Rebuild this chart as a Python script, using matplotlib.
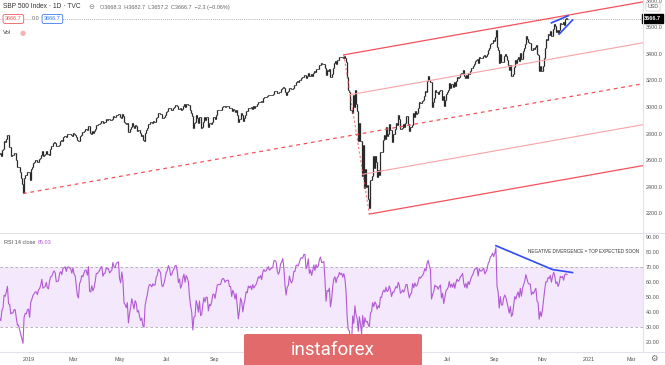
import matplotlib.pyplot as plt
import matplotlib.patches as mpatches
from matplotlib.lines import Line2D
import numpy as np

# SPX daily closes before the visible window (Oct 1 - Nov 19, 2018), only to warm up the RSI
warmup_closes = [2924.6, 2923.4, 2925.5, 2901.6, 2885.6, 2884.4, 2880.3, 2785.7, 2728.4,
                 2767.1, 2750.8, 2809.9, 2809.2, 2768.8, 2767.8, 2755.9, 2740.7, 2656.1,
                 2705.6, 2658.7, 2641.3, 2682.6, 2711.7,
                 2740.4, 2723.1, 2738.3, 2755.5, 2813.9, 2806.8, 2781.0, 2726.2, 2722.2,
                 2701.6, 2730.2, 2736.3, 2690.7]

# visible daily closes, one line per month
closes_2018 = [2641.9, 2649.9, 2632.6, 2673.5, 2682.2, 2743.8, 2737.8, 2760.2,
               2790.4, 2700.1, 2696.0, 2633.1, 2637.7, 2636.8, 2651.1, 2650.5, 2600.0, 2545.9,
               2546.2, 2507.0, 2467.4, 2416.6, 2351.1, 2467.7, 2488.8, 2485.7, 2506.9]
closes_2019 = [
    2510.0, 2447.9, 2531.9, 2549.7, 2574.4, 2585.0, 2596.6, 2596.3, 2582.6, 2610.3, 2616.1,
    2636.0, 2670.7, 2632.9, 2638.7, 2642.3, 2664.8, 2643.9, 2640.0, 2681.1, 2704.1,
    2706.5, 2724.9, 2737.7, 2731.6, 2706.1, 2707.9, 2709.8, 2744.7, 2753.0, 2745.7, 2775.6,
    2779.8, 2784.7, 2774.9, 2792.7, 2796.1, 2793.9, 2792.4, 2784.5,
    2803.7, 2792.8, 2789.7, 2771.5, 2748.9, 2743.1, 2783.3, 2791.5, 2810.9, 2808.5, 2822.5,
    2832.9, 2832.6, 2824.2, 2854.9, 2800.7, 2798.4, 2818.5, 2805.4, 2815.4, 2834.4,
    2867.2, 2867.2, 2873.4, 2879.4, 2892.7, 2895.8, 2878.2, 2888.2, 2888.3, 2907.4, 2905.6,
    2907.1, 2900.5, 2905.0, 2908.0, 2933.7, 2927.3, 2926.2, 2939.9, 2943.0, 2945.8,
    2923.7, 2917.5, 2945.6, 2932.5, 2884.1, 2879.4, 2870.7, 2881.4, 2811.9, 2834.4, 2851.0,
    2876.3, 2859.5, 2840.2, 2864.4, 2856.3, 2822.2, 2826.1, 2802.4, 2783.0, 2788.9, 2752.1,
    2744.5, 2803.3, 2826.2, 2843.5, 2873.3, 2886.7, 2885.7, 2879.8, 2891.6, 2887.0, 2889.7,
    2917.8, 2926.5, 2954.2, 2950.5, 2945.4, 2917.4, 2913.8, 2924.9, 2941.8,
    2964.3, 2973.0, 2995.8, 2990.4, 2976.0, 2979.6, 2993.1, 2999.9, 3013.8, 3014.3, 3004.0,
    2984.4, 2995.1, 2976.6, 2985.0, 3005.5, 3019.6, 3003.7, 3025.9, 3021.0, 3013.2, 2980.4,
    2953.6, 2932.1, 2844.7, 2881.8, 2884.0, 2938.1, 2918.7, 2882.7, 2926.3, 2840.6, 2847.6,
    2888.7, 2923.7, 2900.5, 2924.4, 2923.0, 2847.1, 2878.4, 2869.2, 2887.9, 2924.6, 2926.5,
    2906.3, 2937.8, 2976.0, 2978.7, 2978.4, 2979.4, 3000.9, 3009.6, 3007.4, 2998.0, 3005.7,
    3006.7, 3006.8, 2992.1, 2991.8, 2966.6, 2984.9, 2977.6, 2961.8, 2976.7,
    2940.3, 2887.6, 2910.6, 2952.0, 2938.8, 2893.1, 2919.4, 2938.1, 2970.3, 2966.2, 2995.7,
    2989.7, 2998.0, 2986.2, 3006.7, 2996.0, 3004.5, 3010.3, 3022.6, 3039.4, 3036.9, 3046.8,
    3037.6,
    3066.9, 3078.3, 3074.6, 3076.8, 3085.2, 3093.1, 3087.0, 3091.8, 3094.0, 3096.6, 3120.5,
    3122.0, 3120.2, 3108.5, 3103.5, 3110.3, 3133.6, 3140.5, 3153.6, 3141.0,
    3113.9, 3093.2, 3112.8, 3117.4, 3145.9, 3136.0, 3132.5, 3141.6, 3168.6, 3168.8, 3191.5,
    3192.5, 3191.1, 3205.4, 3221.2, 3224.0, 3223.4, 3239.9, 3240.0, 3221.3, 3230.8]
closes_2020 = [
    3257.9, 3234.9, 3246.3, 3237.2, 3253.1, 3274.7, 3265.4, 3288.1, 3283.2, 3289.3, 3316.8,
    3329.6, 3320.8, 3321.8, 3325.5, 3295.5, 3243.6, 3276.2, 3273.4, 3283.7, 3225.5,
    3248.9, 3297.6, 3334.7, 3345.8, 3327.7, 3352.1, 3357.8, 3379.5, 3373.9, 3380.2, 3370.3,
    3386.2, 3373.2, 3337.8, 3225.9, 3128.2, 3116.4, 2978.8, 2954.2,
    3090.2, 3003.4, 3130.1, 3023.9, 2972.4, 2746.6, 2882.2, 2741.4, 2480.6, 2711.0, 2386.1,
    2529.2, 2398.1, 2409.4, 2304.9, 2237.4, 2447.3, 2475.6, 2630.1, 2541.5, 2626.7, 2584.6,
    2470.5, 2526.9, 2488.7, 2663.7, 2659.4, 2750.0, 2789.8, 2761.6, 2846.1, 2783.4, 2799.6,
    2874.6, 2823.2, 2736.6, 2799.3, 2797.8, 2836.7, 2878.5, 2863.4, 2939.5, 2912.4,
    2830.7, 2842.7, 2868.4, 2848.4, 2881.2, 2929.8, 2930.3, 2870.1, 2820.0, 2852.5, 2863.7,
    2953.9, 2922.9, 2971.6, 2948.5, 2955.5, 2991.8, 3036.1, 3029.7, 3044.3,
    3055.7, 3080.8, 3122.9, 3112.4, 3193.9, 3232.4, 3207.2, 3190.1, 3002.1, 3041.3, 3066.6,
    3124.7, 3113.5, 3115.3, 3097.7, 3117.9, 3131.3, 3050.3, 3083.8, 3009.1, 3053.2, 3100.3,
    3115.9, 3130.0, 3179.7, 3145.3, 3169.9, 3152.1, 3185.0, 3155.2, 3197.5, 3226.6, 3215.6,
    3224.7, 3251.8, 3257.3, 3276.0, 3235.7, 3215.6, 3239.4, 3218.4, 3258.4, 3246.2, 3271.1,
    3294.6, 3306.5, 3327.8, 3349.2, 3351.3, 3360.5, 3333.7, 3380.4, 3373.4, 3372.9, 3382.0,
    3389.8, 3374.9, 3385.5, 3397.2, 3431.3, 3443.6, 3478.7, 3484.6, 3508.0, 3500.3,
    3526.7, 3580.8, 3455.1, 3427.0, 3331.8, 3399.0, 3339.2, 3341.0, 3383.5, 3401.2, 3385.5,
    3357.0, 3319.5, 3281.1, 3315.6, 3236.9, 3246.6, 3298.5, 3351.6, 3335.5, 3363.0,
    3380.8, 3348.4, 3408.6, 3361.0, 3419.4, 3446.8, 3477.1, 3534.2, 3511.9, 3488.7, 3483.3,
    3483.8, 3426.9, 3443.1, 3435.6, 3453.5, 3465.4, 3401.0, 3390.7, 3271.0, 3310.1, 3270.0,
    3310.2, 3369.2, 3443.4, 3510.5, 3509.4, 3550.5, 3545.5, 3572.7, 3537.0, 3585.2, 3626.9,
    3609.5, 3567.8, 3581.9, 3557.5, 3577.6, 3635.4, 3629.7, 3638.4, 3621.6,
    3662.5, 3669.0, 3666.7]

# pitchfork pivots (bar index, price): Dec-18 low, Feb-20 high, Mar-20 low
pivot_idx = [22, 311, 334]
pivot_px = [2346.6, 3393.5, 2191.9]

# blue rising wedge on price
wedge_up_idx, wedge_up_px = [498, 513], [3635, 3688]
wedge_lo_idx, wedge_lo_px = [505, 517], [3550, 3656]

# blue divergence line on RSI
div_idx = [448, 499, 517]
div_rsi = [84.2, 68.3, 66.3]

# month labels that are not hidden behind the watermark
month_pos = [27, 67, 109, 151, 195, 404, 447, 490, 532, 570]
month_lbl = ['2019', 'Mar', 'May', 'Jul', 'Sep', 'Jul', 'Sep', 'Nov', '2021', 'Mar']
price_ticks = [2200, 2400, 2600, 2800, 3000, 3200, 3400, 3600, 3800]
rsi_ticks = [20, 30, 40, 50, 60, 70, 80, 90]
last_close = 3666.7

plt.rcParams['font.family'] = ['Liberation Sans', 'DejaVu Sans']

W, H = 665, 365
fig = plt.figure(figsize=(W / 100, H / 100), dpi=100)


def fx(x):
    return x / W


def fy(y):
    return 1 - y / H


ax = fig.add_axes([0, fy(233), fx(643), 233 / H])
ax_rsi = fig.add_axes([0, fy(352), fx(643), (352 - 233) / H])

closes = np.array(closes_2018 + closes_2019 + closes_2020)
idx = np.arange(len(closes))
opens = np.r_[warmup_closes[-1], closes[:-1]]
lows = np.minimum(opens, closes)
highs = np.maximum(opens, closes)

# --- price bars ---
bar_col = '#2a2a2a'
ax.vlines(idx, lows, highs, color=bar_col, lw=0.9)
ax.hlines(opens, idx - 0.5, idx, color=bar_col, lw=0.7)
ax.hlines(closes, idx, idx + 0.5, color=bar_col, lw=0.7)

ax.set_xlim(1.3, 580.5)
ax.set_ylim(2049.1, 3807.5)
x_end = ax.get_xlim()[1]

# --- pitchfork ---
xa, xb, xc = pivot_idx
pa, pb, pc = pivot_px
xm, pm = (xb + xc) / 2, (pb + pc) / 2
slope = (pm - pa) / (xm - xa)
red = '#f4525a'
ax.plot([xa, x_end], [pa, pa + slope * (x_end - xa)], color=red, lw=0.9, ls=(0, (3, 3)))
ax.plot([xb, xc], [pb, pc], color=red, lw=0.8, ls=(0, (2, 2)), alpha=0.8)
for x0, p0 in [(xb, pb), (xc, pc)]:
    ax.plot([x0, x_end], [p0, p0 + slope * (x_end - x0)], color=red, lw=0.9)
for f in [0.25, 0.75]:
    x0, p0 = xb + f * (xc - xb), pb + f * (pc - pb)
    ax.plot([x0, x_end], [p0, p0 + slope * (x_end - x0)], color='#f7a3a8', lw=0.8)

# --- wedge ---
blue = '#2f4cf2'
ax.plot(wedge_up_idx, wedge_up_px, color=blue, lw=1.2)
ax.plot(wedge_lo_idx, wedge_lo_px, color=blue, lw=1.2)

# last price line
ax.axhline(last_close, color='#9a9a9a', lw=0.6, ls=(0, (1, 1.5)), zorder=0)

ax.yaxis.tick_right()
ax.set_yticks(price_ticks, [f'{v:.1f}' for v in price_ticks])
ax.tick_params(axis='y', length=0, pad=2, labelsize=3.9, labelcolor='#555555')
ax.set_xticks([])
for s in ax.spines.values():
    s.set_visible(False)

ax.text(1.002, last_close, f'{last_close:.1f}', transform=ax.get_yaxis_transform(),
        va='center', ha='left', fontsize=3.9, color='white', fontweight='bold',
        bbox=dict(boxstyle='square,pad=0.4', fc='black', ec='black'))

# --- RSI ---
all_closes = np.array(warmup_closes + list(closes))
d = np.diff(all_closes)
gain, loss = np.clip(d, 0, None), np.clip(-d, 0, None)
n = 14
ag, al = gain[:n].mean(), loss[:n].mean()
rsi_all = [np.nan] * (n + 1)
rsi_all[n] = 100 - 100 / (1 + ag / al)
for g, l in zip(gain[n:], loss[n:]):
    ag = (ag * (n - 1) + g) / n
    al = (al * (n - 1) + l) / n
    rsi_all.append(100 - 100 / (1 + ag / al))
rsi = np.array(rsi_all[-len(closes):])

ax_rsi.axhspan(30, 70, color='#f4e8fc', lw=0)
ax_rsi.axhline(70, color='#a8a8a8', lw=0.6, ls=(0, (3, 3)))
ax_rsi.axhline(30, color='#a8a8a8', lw=0.6, ls=(0, (3, 3)))
ax_rsi.plot(idx, rsi, color='#b25ad4', lw=0.8)
ax_rsi.plot(div_idx, div_rsi, color=blue, lw=1.2)
ax_rsi.text(477, 80.5, 'NEGATIVE DIVERGENCE = TOP EXPECTED SOON', fontsize=3.3,
            color='#333333', va='center', ha='left')

ax_rsi.set_xlim(ax.get_xlim())
ax_rsi.set_ylim(13.33, 92.67)
ax_rsi.yaxis.tick_right()
ax_rsi.set_yticks(rsi_ticks, [f'{v:.2f}' for v in rsi_ticks])
ax_rsi.set_xticks(month_pos, month_lbl)
ax_rsi.tick_params(length=0, labelsize=3.9, labelcolor='#555555')
ax_rsi.tick_params(axis='y', pad=2)
ax_rsi.tick_params(axis='x', pad=3.5)
for s in ax_rsi.spines.values():
    s.set_visible(False)

# --- separators ---
sep = '#e0e3eb'
fig.add_artist(Line2D([0, 1], [fy(233), fy(233)], color=sep, lw=0.8))
fig.add_artist(Line2D([0, 1], [fy(352), fy(352)], color=sep, lw=0.8))
fig.add_artist(Line2D([fx(643), fx(643)], [fy(0), fy(352)], color=sep, lw=0.8))

# --- header texts ---
fig.text(fx(3), fy(7), 'SBP 500 Index · 1D · TVC', fontsize=4.8, color='#333333', va='center')
fig.text(fx(88), fy(7), '⊖', fontsize=5, color='#888888', va='center', family='DejaVu Sans')
fig.text(fx(100), fy(7), 'O3668.3  H3682.7  L3657.2  C3666.7  −2.3 (−0.06%)', fontsize=4.0,
         color='#666666', va='center')
fig.text(fx(5), fy(19), '3666.7', fontsize=4.0, color='#f05a5a', va='center',
         bbox=dict(boxstyle='round,pad=0.35,rounding_size=0.3', fc='white', ec='#f05a5a', lw=0.6))
fig.text(fx(32), fy(19), '0.0', fontsize=4.0, color='#666666', va='center',
         bbox=dict(boxstyle='square,pad=0.2', fc='white', ec='none'))
fig.text(fx(44), fy(19), '3666.7', fontsize=4.0, color='#3a7bf0', va='center',
         bbox=dict(boxstyle='round,pad=0.35,rounding_size=0.3', fc='white', ec='#3a7bf0', lw=0.6))
fig.text(fx(3), fy(33), 'Vol', fontsize=4.2, color='#444444', va='center')
fig.text(fx(20), fy(33), '●', fontsize=5, color='#f7b3b3', va='center', family='DejaVu Sans')
fig.text(fx(4), fy(243), 'RSI 14 close', fontsize=4.0, color='#555555', va='center')
fig.text(fx(38), fy(243), '65.03', fontsize=4.0, color='#b25ad4', va='center')
fig.text(fx(653), fy(7), 'USD', fontsize=3.9, color='#555555', va='center', ha='center',
         bbox=dict(boxstyle='round,pad=0.3,rounding_size=0.3', fc='white', ec='#d0d3db', lw=0.6))
fig.text(fx(654), fy(358), '⚙', fontsize=6, color='#666666', va='center', ha='center',
         family='DejaVu Sans')

# --- watermark ---
fig.add_artist(mpatches.FancyBboxPatch((fx(244), fy(368)), fx(178), 34 / H,
                                       boxstyle='round,pad=0,rounding_size=0.004',
                                       fc='#e26a6a', ec='none', transform=fig.transFigure,
                                       zorder=10))
fig.text(fx(333), fy(350), 'instaforex', fontsize=13.5, color='white', ha='center',
         va='center', family=['Roboto', 'DejaVu Sans'], zorder=11)

fig.savefig('out.png', dpi=100)
